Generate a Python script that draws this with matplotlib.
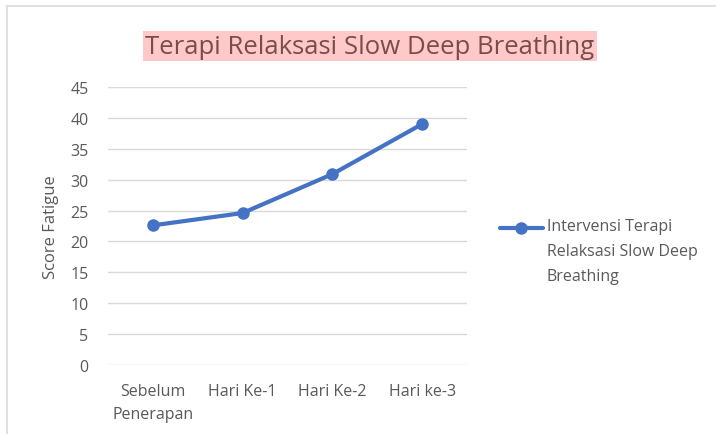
import matplotlib
matplotlib.use("Agg")
import matplotlib.pyplot as plt
from matplotlib.patches import Rectangle
from matplotlib.lines import Line2D

categories = ["Sebelum\nPenerapan", "Hari Ke-1", "Hari Ke-2", "Hari ke-3"]
values = [22.6, 24.6, 30.9, 39.0]
yticks = [0, 5, 10, 15, 20, 25, 30, 35, 40, 45]
series_name = "Intervensi Terapi\nRelaksasi Slow Deep\nBreathing"
title = "Terapi Relaksasi Slow Deep Breathing"

plt.rcParams['font.family'] = ['Open Sans', 'DejaVu Sans']
W, H = 716, 435
fig = plt.figure(figsize=(W/100, H/100), dpi=100)

# outer frame
fig.patches.append(Rectangle((7/W, -0.01), 1.0, 1 - 7/H + 0.01, transform=fig.transFigure,
                             fill=False, edgecolor="#d9d9d9", linewidth=1.2))

ax = fig.add_axes([108/W, 69/H, (467-108)/W, (366-88)/H])
x = list(range(len(categories)))
line, = ax.plot(x, values, color="#4472c4", linewidth=3, marker="o", markersize=8,
                solid_capstyle="round", zorder=3)
ax.set_xlim(-0.5, len(categories) - 0.5)
ax.set_ylim(0, 45)
ax.set_yticks(yticks)
ax.set_xticks(x)
ax.set_xticklabels(categories, linespacing=1.6)
for s in ax.spines.values():
    s.set_visible(False)
ax.grid(axis="y", color="#d9d9d9", linewidth=1)
ax.set_axisbelow(True)
ax.tick_params(axis="both", length=0, labelsize=11.5, colors="#595959")
ax.tick_params(axis="y", pad=14)
ax.tick_params(axis="x", pad=13)
ax.set_ylabel("Score Fatigue", fontsize=12, color="#595959", labelpad=8)

fig.text(370/W, 1 - 47/H, title, ha="center", va="center", fontsize=18.5, color="#7a4c4c",
         bbox=dict(boxstyle="square,pad=0.1", facecolor="#ffc9c9", edgecolor="none"))

# legend (handle aligned with first text line)
ly = 1 - 229/H
fig.lines.append(Line2D([500/W, 543/W], [ly, ly], transform=fig.transFigure,
                        color="#4472c4", linewidth=3, solid_capstyle="round"))
fig.lines.append(Line2D([521/W], [ly], transform=fig.transFigure, color="#4472c4",
                        marker="o", markersize=8, linestyle="none"))
fig.text(547/W, ly + 10/H, series_name, ha="left", va="top", fontsize=11.5,
         color="#595959", linespacing=1.75)

fig.savefig("out.png", dpi=100)
